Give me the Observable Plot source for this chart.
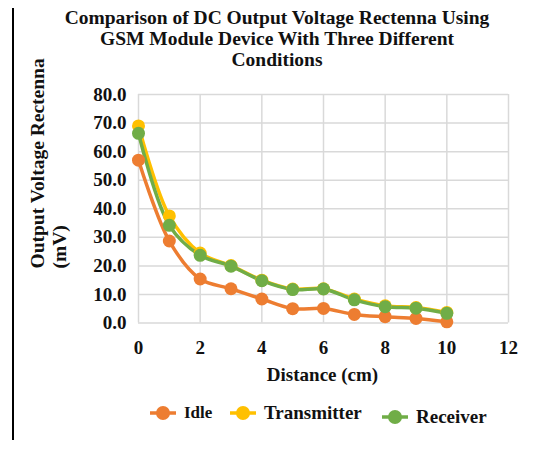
<!DOCTYPE html>
<html><head><meta charset="utf-8">
<script src="https://cdn.jsdelivr.net/npm/d3@7"></script>
<script src="https://cdn.jsdelivr.net/npm/@observablehq/plot@0.6"></script>
<style>
body{margin:0;background:#fff;font-family:"Liberation Serif","Times New Roman",serif;}
#wrap{position:relative;width:538px;height:450px;overflow:hidden;}
#border{position:absolute;left:12px;top:8px;width:2px;height:432px;background:#000;}
#title{position:absolute;left:0;top:7px;width:554px;text-align:center;font-weight:bold;font-size:19.5px;line-height:21px;color:#111;}
#chart{position:absolute;left:0;top:50px;}
.leg{position:absolute;display:flex;align-items:center;font-weight:bold;color:#111;}
.leg svg{margin-right:8px;}
</style></head>
<body>
<div id="wrap">
  <div id="border"></div>
  <div id="title">Comparison of DC Output Voltage Rectenna Using<br>GSM Module Device With Three Different<br>Conditions</div>
  <div id="chart"></div>
  <div id="legend"></div>
</div>
<script>
const distance = [0, 1, 2, 3, 4, 5, 6, 7, 8, 9, 10];
const idle = [57.0, 28.7, 15.4, 12.0, 8.4, 5.0, 5.1, 3.0, 2.2, 1.6, 0.4];
const transmitter = [69.0, 37.5, 24.5, 20.1, 15.0, 11.9, 12.0, 8.4, 6.0, 5.4, 3.7];
const receiver = [66.4, 34.2, 23.7, 19.9, 14.8, 11.7, 11.9, 8.1, 5.7, 5.2, 3.4];
const seriesNames = ["Idle", "Transmitter", "Receiver"];
const seriesColors = ["#ED7D31", "#FFC000", "#70AD47"];
const xTicks = [0, 2, 4, 6, 8, 10, 12];
const yTicks = [0, 10, 20, 30, 40, 50, 60, 70, 80];
const xLabel = "Distance (cm)";
const yLabel = "Output Voltage Rectenna\n(mV)";

const seriesValues = [idle, transmitter, receiver];
const rows = seriesNames.flatMap((name, i) =>
  distance.map((d, j) => ({series: name, x: d, y: seriesValues[i][j]})));

const font = "'Liberation Serif','Times New Roman',serif";
const chart = Plot.plot({
  width: 538,
  height: 345,
  marginLeft: 138,
  marginRight: 30,
  marginTop: 44,
  marginBottom: 72.5,
  style: {fontFamily: font, fontWeight: "bold", fontSize: "19px", color: "#111", background: "transparent"},
  x: {domain: [0, 12]},
  y: {domain: [0, 80]},
  color: {domain: seriesNames, range: seriesColors},
  marks: [
    Plot.gridX(xTicks, {stroke: "#d9d9d9", strokeOpacity: 1, strokeWidth: 1.5}),
    Plot.gridY(yTicks, {stroke: "#d9d9d9", strokeOpacity: 1, strokeWidth: 1.5}),
    Plot.axisX(xTicks, {tickSize: 0, tickPadding: 17, label: null, fontSize: 19}),
    Plot.axisY(yTicks, {tickSize: 0, tickPadding: 12, label: null, fontSize: 19, tickFormat: d => d.toFixed(1)}),
    Plot.line(rows, {x: "x", y: "y", z: "series", stroke: "series", strokeWidth: 3.5, curve: "catmull-rom"}),
    Plot.dot(rows, {x: "x", y: "y", fill: "series", r: 6.5}),
    Plot.text([xLabel], {frameAnchor: "bottom", dy: 57.5, dx: -1, fontSize: 19, fontWeight: "bold"}),
    Plot.text([yLabel], {frameAnchor: "bottom-left", rotate: -90, textAnchor: "start", dx: -73, dy: -54.5, fontSize: 19.5, fontWeight: "bold", lineHeight: 1.12})
  ]
});
document.getElementById("chart").appendChild(chart);

// legend
const legendPos = [
  {left: 150, top: 403, size: 17},
  {left: 230, top: 403, size: 19},
  {left: 382, top: 407, size: 19}
];
const legend = document.getElementById("legend");
seriesNames.forEach((name, i) => {
  const p = legendPos[i];
  const div = document.createElement("div");
  div.className = "leg";
  div.style.left = p.left + "px";
  div.style.top = p.top + "px";
  div.style.height = "20px";
  div.style.fontSize = p.size + "px";
  div.innerHTML = `<svg width="26" height="20"><line x1="0" y1="10" x2="26" y2="10" stroke="${seriesColors[i]}" stroke-width="3.5"/><circle cx="13" cy="10" r="7" fill="${seriesColors[i]}"/></svg><span>${name}</span>`;
  legend.appendChild(div);
});
</script>
</body></html>
